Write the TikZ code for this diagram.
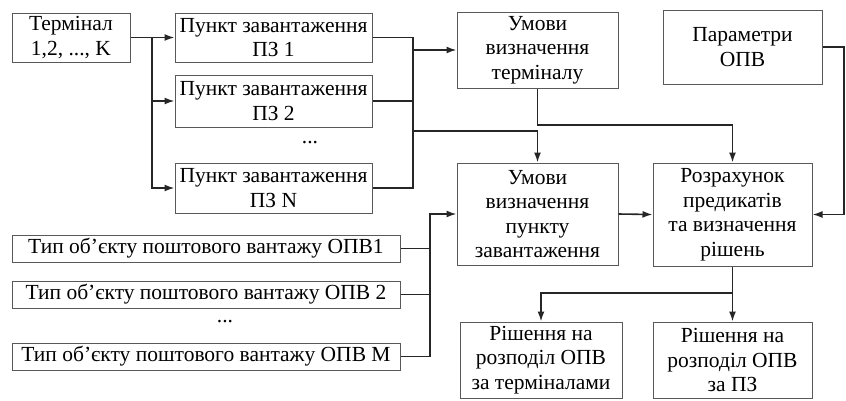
\documentclass[tikz,border=0pt]{standalone}
\usepackage{fontspec}
\setmainfont{Liberation Serif}
\newfontfamily\tnr{Liberation Serif}
\usetikzlibrary{arrows.meta}
\begin{document}
\begin{tikzpicture}[x=1pt,y=-1pt,
  txt/.style={font=\tnr\fontsize{21.5}{24.5}\selectfont},
  box/.style={txt,draw=black!65,line width=1pt,fill=white,inner sep=0pt,align=center},
  conn/.style={line width=1.6pt,black!85},
  arr/.style={conn,-{Latex[length=10pt,width=7pt]}}]
\useasboundingbox (0,0) rectangle (846,400);
% nodes
\node[box,minimum width=118pt,minimum height=49pt] (term) at (71,37.5) {Термінал\\1,2, ..., K};
\node[box,minimum width=197pt,minimum height=49pt] (pz1) at (273.5,37.5) {Пункт завантаження\\ПЗ 1};
\node[box,minimum width=197pt,minimum height=52pt] (pz2) at (273.5,101) {Пункт завантаження\\ПЗ 2};
\node[txt] (d1) at (310,143) {...};
\node[box,minimum width=197pt,minimum height=50pt] (pzn) at (273.5,188) {Пункт завантаження\\ПЗ N};
\node[box,minimum width=161pt,minimum height=76pt] (ut) at (537.5,50) {Умови\\визначення\\терміналу};
\node[box,minimum width=159pt,minimum height=74pt] (par) at (742.5,47) {Параметри\\ОПВ};
\node[box,minimum width=161pt,minimum height=102pt] (upz) at (537.5,214) {Умови\\визначення\\пункту\\завантаження};
\node[box,minimum width=159pt,minimum height=103pt] (roz) at (732.5,214.5) {Розрахунок\\предикатів\\та визначення\\рішень};
\node[box,minimum width=388pt,minimum height=27pt] (t1) at (206,248.5) {Тип об’єкту поштового вантажу ОПВ1};
\node[box,minimum width=388pt,minimum height=27pt] (t2) at (206,294.5) {Тип об’єкту поштового вантажу ОПВ 2};
\node[txt] (d2) at (225,322) {...};
\node[box,minimum width=388pt,minimum height=27pt] (tm) at (206,356.5) {Тип об’єкту поштового вантажу ОПВ M};
\node[box,minimum width=162pt,minimum height=76pt] (r1) at (541,360) {Рішення на\\розподіл ОПВ\\за терміналами};
\node[box,minimum width=159pt,minimum height=76pt] (r2) at (732.5,360) {Рішення на\\розподіл ОПВ\\за ПЗ};
% coordinates
\coordinate (b1) at (152,37.5);
\coordinate (b2) at (413,37.5);
\coordinate (b2m) at (413,131);
\coordinate (b3) at (430,214);
\coordinate (utc) at (537.5,125);
\coordinate (pe) at (844,47);
\coordinate (rc) at (732.5,293);
% connectors
\draw[arr] (term.east) -- (pz1.west);
\draw[arr] (b1) |- (pzn.west);
\draw[arr] (b1|-pz2.west) -- (pz2.west);
\draw[conn] (pz1.east) -- (b2) |- (pzn.east);
\draw[conn] (pz2.east) -- (b2|-pz2.east);
\draw[arr] (b2|-ut.west) -- (ut.west);
\draw[arr] (b2m) -| (upz.north);
\draw[arr] (ut.south) -- (utc) -| (roz.north);
\draw[arr] (par.east) -- (pe) |- (roz.east);
\draw[arr] (upz.east) -- (roz.west);
\draw[conn] (t1.east) -- (t1.east-|b3);
\draw[conn] (t2.east) -- (t2.east-|b3);
\draw[arr] (tm.east) -| (b3) -- (upz.west);
\draw[arr] (roz.south) -- (rc) -| (r1.north);
\draw[arr] (rc) -- (r2.north);
\end{tikzpicture}
\end{document}
